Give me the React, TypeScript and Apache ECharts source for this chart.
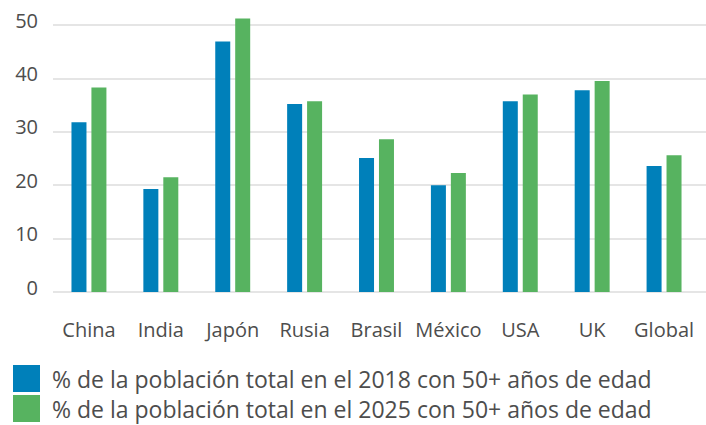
import React, { useEffect, useRef } from "react";
import * as echarts from "echarts";

const categories = ["China", "India", "Japón", "Rusia", "Brasil", "México", "USA", "UK", "Global"];
const values2018 = [31.8, 19.3, 46.9, 35.2, 25.1, 20.0, 35.7, 37.8, 23.6];
const values2025 = [38.3, 21.5, 51.2, 35.7, 28.6, 22.3, 37.0, 39.5, 25.6];
const seriesNames = [
  "% de la población total en el 2018 con 50+ años de edad",
  "% de la población total en el 2025 con 50+ años de edad",
];
const yTicks = { min: 0, max: 50, interval: 10 };

const BLUE = "#0080BA";
const GREEN = "#57B360";
const TEXT = "#4d4d4d";
const FONT = "'Open Sans', Lato, sans-serif";

export default function App() {
  const ref = useRef<HTMLDivElement>(null);

  useEffect(() => {
    if (!ref.current) return;
    const chart = echarts.init(ref.current, null, { renderer: "svg" });
    chart.setOption({
      animation: false,
      textStyle: { fontFamily: FONT },
      grid: [
        // bars
        { left: 53, right: 6, top: 25, height: 267, containLabel: false },
        // value gridlines running to the right edge
        { left: 53, right: 0, top: 25, height: 267, containLabel: false },
      ],
      legend: {
        orient: "vertical",
        left: 13,
        top: 365,
        padding: 0,
        itemWidth: 27,
        itemHeight: 27,
        itemGap: 3,
        icon: "rect",
        selectedMode: false,
        textStyle: {
          fontSize: 23,
          color: TEXT,
          fontFamily: FONT,
          lineHeight: 19,
          padding: [8, 0, 0, 7],
        },
        data: seriesNames,
      },
      xAxis: [
        {
          type: "category",
          gridIndex: 0,
          data: categories,
          axisLine: { show: false },
          axisTick: { show: false },
          axisLabel: { interval: 0, fontSize: 20, color: TEXT, margin: 27, fontFamily: FONT },
        },
        {
          type: "value",
          gridIndex: 1,
          show: false,
          min: 0,
          max: 1,
        },
      ],
      yAxis: [
        {
          type: "value",
          gridIndex: 0,
          min: yTicks.min,
          max: yTicks.max,
          interval: yTicks.interval,
          show: false,
          splitLine: { show: false },
        },
        {
          type: "value",
          gridIndex: 1,
          min: yTicks.min,
          max: yTicks.max,
          interval: yTicks.interval,
          axisLine: { show: false },
          axisTick: { show: false },
          splitLine: { show: true, lineStyle: { color: "#dcdcdc", width: 1.6 } },
          axisLabel: {
            fontSize: 20,
            color: TEXT,
            margin: 15,
            fontFamily: FONT,
            verticalAlign: "bottom",
            lineHeight: 10,
          },
        },
      ],
      series: [
        {
          name: seriesNames[0],
          type: "bar",
          xAxisIndex: 0,
          yAxisIndex: 0,
          data: values2018,
          barWidth: 15,
          barGap: "33%",
          clip: false,
          itemStyle: { color: BLUE },
        },
        {
          name: seriesNames[1],
          type: "bar",
          xAxisIndex: 0,
          yAxisIndex: 0,
          data: values2025,
          barWidth: 15,
          barGap: "33%",
          clip: false,
          itemStyle: { color: GREEN },
        },
      ],
    });
    return () => chart.dispose();
  }, []);

  return <div ref={ref} style={{ width: 706, height: 425, position: "absolute", left: 0, top: 0 }} />;
}
